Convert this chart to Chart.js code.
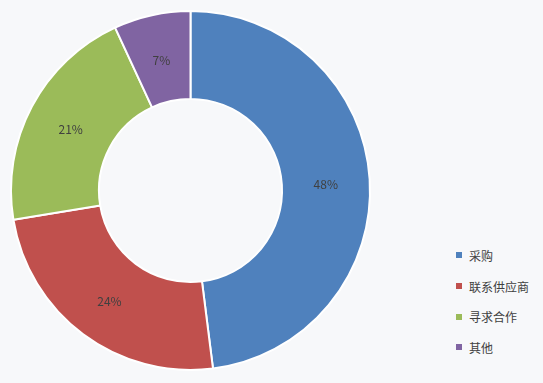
<!DOCTYPE html>
<html><head><meta charset="utf-8">
<script src="https://cdn.jsdelivr.net/npm/chart.js@4"></script>
<style>
html,body{margin:0;padding:0;background:#f7f8fa;width:543px;height:383px;overflow:hidden;font-family:"Noto Sans CJK SC","Noto Sans",sans-serif;}
#wrap{position:absolute;left:0;top:0;width:381px;height:381px;}
#legend{position:absolute;left:455px;top:240px;font-size:12px;color:#404040;}
.row{height:30.7px;display:flex;align-items:center;}
.sw{width:6px;height:6px;margin-right:7px;margin-left:1px;}
</style></head><body>
<div id="wrap"><canvas id="c"></canvas></div>
<div id="legend"></div>
<script>
const categories = ["采购","联系供应商","寻求合作","其他"];
const values = [48.0, 24.4, 20.7, 6.9];
const colors = ["#4F81BD","#C0504D","#9BBB59","#8064A2"];

const lg = document.getElementById('legend');
categories.forEach((c,i)=>{
  const r=document.createElement('div');r.className='row';
  const s=document.createElement('div');s.className='sw';s.style.background=colors[i];
  const t=document.createElement('span');t.textContent=c;
  r.appendChild(s);r.appendChild(t);lg.appendChild(r);
});

const labelPlugin = {
  id:'pctLabels',
  afterDatasetsDraw(chart){
    const ctx=chart.ctx;
    const meta=chart.getDatasetMeta(0);
    const total=values.reduce((a,b)=>a+b,0);
    ctx.save();
    ctx.font='12px "Noto Sans CJK SC","Noto Sans",sans-serif';
    ctx.fillStyle='#404040';
    ctx.textAlign='center';ctx.textBaseline='middle';
    meta.data.forEach((arc,i)=>{
      const p=arc.tooltipPosition();
      ctx.fillText(Math.round(values[i]/total*100)+'%',p.x,p.y+2);
    });
    ctx.restore();
  }
};

new Chart(document.getElementById('c'),{
  type:'doughnut',
  data:{labels:categories,datasets:[{data:values,backgroundColor:colors,borderColor:'#ffffff',borderWidth:2}]},
  options:{
    responsive:true,maintainAspectRatio:false,animation:false,
    cutout:'51%',
    layout:{padding:10},
    plugins:{legend:{display:false},tooltip:{enabled:false}}
  },
  plugins:[labelPlugin]
});
</script>
</body></html>
